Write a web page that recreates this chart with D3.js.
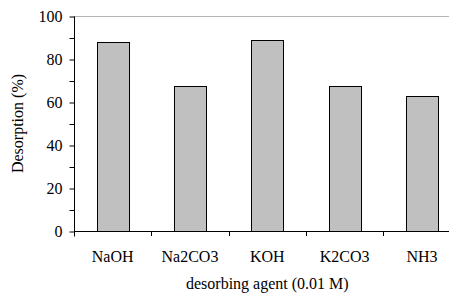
<!DOCTYPE html>
<html><head><meta charset="utf-8">
<script src="https://cdn.jsdelivr.net/npm/d3@7"></script>
<style>body{margin:0;background:#fff;overflow:hidden}svg{display:block}</style>
</head><body><svg id="c" width="449" height="294"></svg>
<script>
const categories = ["NaOH","Na2CO3","KOH","K2CO3","NH3"];
const values = [88, 67.5, 89, 67.5, 63];
const yTicks = [0,20,40,60,80,100];
const yMinorTicks = [10,30,50,70,90];
const xTitle = "desorbing agent (0.01 M)";
const yTitle = "Desorption (%)";

const FONT = "'Liberation Serif', 'Times New Roman', Times, serif";
const svg = d3.select("#c");
const L = 74, R = 460.6, T = 16, B = 231;
const x = d3.scaleBand().domain(categories).range([L, R]).paddingInner(0.59).paddingOuter(0.295);
const y = d3.scaleLinear().domain([0,100]).range([B, T]);

// top gridline
svg.append("line").attr("x1", L).attr("x2", R).attr("y1", y(100)+0.5).attr("y2", y(100)+0.5)
  .attr("stroke", "#b4b4b4").attr("stroke-width", 1);

// bars
svg.selectAll("rect.bar").data(values).join("rect").attr("class","bar")
  .attr("x", (d,i) => Math.round(x(categories[i])) + 0.5)
  .attr("y", d => Math.round(y(d)) + 0.5)
  .attr("width", Math.round(x.bandwidth()))
  .attr("height", d => Math.round(B - y(d)))
  .attr("fill", "#c0c0c0").attr("stroke", "#000").attr("stroke-width", 1);

// y axis
const yAxis = d3.axisLeft(y).tickValues(yTicks).tickSize(5).tickPadding(7).tickFormat(d3.format("d"));
const gy = svg.append("g").attr("transform", `translate(${L+0.5},0.5)`).call(yAxis);
gy.attr("font-family", null).attr("font-size", null);
gy.select(".domain").remove();
gy.append("line").attr("x1",0).attr("x2",0).attr("y1",T).attr("y2",B+5).attr("stroke","#000");
gy.selectAll("text").style("font-family", FONT).style("font-size","16px").attr("dy","0.33em");
const gym = svg.append("g").attr("transform", `translate(${L+0.5},0.5)`)
  .call(d3.axisLeft(y).tickValues(yMinorTicks).tickSize(5).tickFormat(""));
gym.select(".domain").remove();

// x axis
svg.append("line").attr("x1", L).attr("x2", R).attr("y1", B+0.5).attr("y2", B+0.5).attr("stroke","#000");
const bounds = categories.slice(1).map(c => x(c) - x.step()*x.paddingInner()/2);
svg.selectAll("line.xt").data(bounds).join("line").attr("class","xt")
  .attr("x1", d => Math.round(d)+0.5).attr("x2", d => Math.round(d)+0.5)
  .attr("y1", B).attr("y2", B+5).attr("stroke","#000");
svg.selectAll("text.xl").data(categories).join("text").attr("class","xl")
  .attr("x", d => x(d) + x.bandwidth()/2).attr("y", 262)
  .attr("text-anchor","middle").style("font-family", FONT).style("font-size","16px").text(d => d);

// titles
svg.append("text").attr("x", (L+R)/2).attr("y", 289).attr("text-anchor","middle")
  .style("font-family", FONT).style("font-size","16px").text(xTitle);
svg.append("text").attr("transform", `translate(23,${(T+B)/2}) rotate(-90)`)
  .attr("text-anchor","middle").style("font-family", FONT).style("font-size","16px").text(yTitle);
</script></body></html>
